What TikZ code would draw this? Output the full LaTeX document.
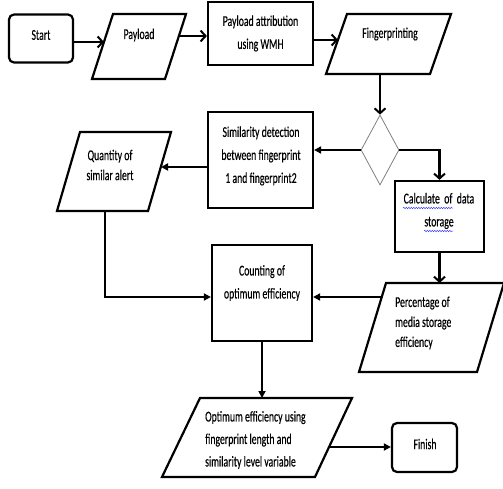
\documentclass[tikz,border=0pt]{standalone}
\usepackage{fontspec}
\setmainfont{Carlito}[FakeStretch=0.65,FakeBold=0.3]
\usetikzlibrary{arrows.meta,shapes.geometric,decorations.pathmorphing}
\begin{document}
\begin{tikzpicture}[x=1pt,y=-1pt,
  font=\fontsize{15}{23}\selectfont,
  box/.style={draw,line width=2.2pt,inner sep=0pt,align=center},
  term/.style={box,rounded corners=5pt},
  para/.style={draw,line width=2.2pt,line join=miter},
  txt/.style={align=center,inner sep=0pt},
  arrV/.style={line width=2.3pt,-{Straight Barb[length=5pt,width=11pt,line width=2pt]}},
  arrT/.style={line width=2.2pt,-{Triangle[length=7pt,width=7pt]}},
  wavy/.style={draw=blue!75!white,line width=0.5pt,decorate,decoration={snake,amplitude=0.7pt,segment length=2.5pt}}
]
\useasboundingbox (0,0) rectangle (503,489);

% Start
\node[term,minimum width=64pt,minimum height=48pt] (start) at (41,38.5) {};
\node[txt] (startT) at (41,35) {Start};

% Payload
\draw[para] (113,14) -- (186,14) -- (165,79) -- (92,79) -- cycle;
\node[txt] (pay) at (139,35) {Payload};
\coordinate (payL) at (104,42);
\coordinate (payR) at (179,36);

% WMH
\node[box,minimum width=105pt,minimum height=63pt] (wmh) at (260.5,33.5) {Payload attribution\\using WMH};

% Fingerprinting
\draw[para] (347,14) -- (451,14) -- (430,74) -- (326,74) -- cycle;
\node[txt] (fp) at (390,34) {Fingerprinting};
\coordinate (fpL) at (338,40);
\coordinate (fpB) at (380,74);

% Decision
\node[diamond,draw=gray,line width=0.8pt,minimum width=38pt,minimum height=70pt,inner sep=0pt] (dec) at (380,150) {};

% Similarity
\node[box,minimum width=105pt,minimum height=96pt] (sim) at (260.5,160) {};
\node[txt] (simT) at (261,156) {Similarity detection\\between fingerprint\\1 and fingerprint2};

% Quantity
\draw[para] (80,132) -- (171,132) -- (148,211) -- (57,211) -- cycle;
\node[txt,font=\fontsize{15}{20}\selectfont] (qty) at (110,165) {Quantity of\\similar alert};
\coordinate (qtyR) at (161,167);
\coordinate (qtyB) at (105,211);

% Calculate
\node[box,minimum width=89pt,minimum height=71pt] (calc) at (439.5,216.5) {};
\node[txt] (calcT) at (439,211) {Calculate\ \ of\ \ data\\storage};
\draw[wavy] (403,208) -- (453,208);
\draw[wavy] (424,231) -- (453,231);

% Percentage
\draw[para] (386,283) -- (504,283) -- (477,372) -- (359,372) -- cycle;
\node[txt,align=left,anchor=west,font=\fontsize{15}{20}\selectfont] (pct) at (395,323) {Percentage of\\media storage\\efficiency};
\coordinate (pctT) at (440,283);
\coordinate (pctL) at (382,297);

% Counting
\node[box,minimum width=100pt,minimum height=96pt] (cnt) at (262,293) {};
\node[txt] (cntT) at (262,283) {Counting of\\optimum efficiency};

% Optimum
\draw[para] (200,398) -- (352,398) -- (315,477) -- (162,477) -- cycle;
\node[txt,align=left,anchor=west,font=\fontsize{15}{22.5}\selectfont] (opt) at (205,440) {Optimum efficiency using\\fingerprint length and\\similarity level variable};
\coordinate (optT) at (260,398);
\coordinate (optR) at (329,447);

% Finish
\node[term,minimum width=65pt,minimum height=49pt] (fin) at (424.5,447.5) {};
\node[txt] (finT) at (425,444) {Finish};

% Connectors
\draw[arrV] (start.east |- payL) -- (payL);
\draw[arrV] (payR) -- (payR -| wmh.west);
\draw[arrV] (wmh.east |- fpL) -- (fpL);
\draw[arrV] (fpB) -- (dec.north);
\draw[arrT] (dec.west) -- (dec.west -| sim.east);
\draw[arrV] (dec.east) -| (calc.north);
\draw[arrT] (sim.west |- qtyR) -- (qtyR);
\draw[arrT] (qtyB) |- (cnt.west |- pctL);
\draw[arrV] (calc.south) -- (calc.south |- pctT);
\draw[arrT] (pctL) -- (pctL -| cnt.east);
\draw[arrT] (cnt.south) -- (cnt.south |- optT);
\draw[arrT] (optR) -- (fin.west |- optR);
\end{tikzpicture}
\end{document}
